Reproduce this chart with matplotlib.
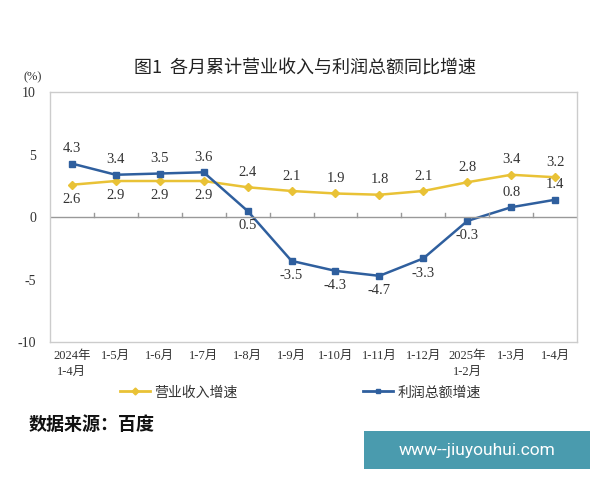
import matplotlib.pyplot as plt
from matplotlib.patches import Rectangle
from matplotlib.lines import Line2D

plt.rcParams['font.family'] = ['Liberation Serif', 'Noto Sans CJK SC']

months = ["2024年\n1-4月", "1-5月", "1-6月", "1-7月", "1-8月", "1-9月", "1-10月",
          "1-11月", "1-12月", "2025年\n1-2月", "1-3月", "1-4月"]
revenue = [2.6, 2.9, 2.9, 2.9, 2.4, 2.1, 1.9, 1.8, 2.1, 2.8, 3.4, 3.2]
profit = [4.3, 3.4, 3.5, 3.6, 0.5, -3.5, -4.3, -4.7, -3.3, -0.3, 0.8, 1.4]

yellow = "#E9C236"
blue = "#2F5F9E"
grey_txt = "#333333"

# label above (+1) or below (-1) each point
rev_side = [-1, -1, -1, -1, 1, 1, 1, 1, 1, 1, 1, 1]
prof_side = [1, 1, 1, 1, -1, -1, -1, -1, -1, -1, 1, 1]

fig = plt.figure(figsize=(6, 4.8), dpi=100)
ax = fig.add_axes([0.083, 0.2875, 0.879, 0.52])
x = list(range(len(months)))

ax.plot(x, revenue, color=yellow, lw=1.8, marker="D", ms=4.5)
ax.plot(x, profit, color=blue, lw=1.8, marker="s", ms=4.5)


def label(i, v, side):
    ax.annotate(f"{v:.1f}", (i, v), xytext=(0, 6 * side), textcoords="offset points",
                ha="center", va="bottom" if side > 0 else "top",
                fontsize=10.5, color=grey_txt)


for i in x:
    label(i, revenue[i], rev_side[i])
    label(i, profit[i], prof_side[i])

ax.set_xlim(-0.5, 11.5)
ax.set_ylim(-10, 10)
ax.set_yticks([-10, -5, 0, 5, 10])
ax.set_yticklabels(["-10", "-5", "0", "5", "10"])
ax.axhline(0, color="#999999", lw=1)
for b in range(1, 12):
    ax.plot([b - 0.5, b - 0.5], [0, 0.35], color="#999999", lw=1)
ax.set_xticks(x)
ax.set_xticklabels(months, fontsize=9, color=grey_txt, linespacing=1.4)
ax.tick_params(axis="x", length=0, pad=6)
ax.tick_params(axis="y", length=0, pad=10, labelsize=10, labelcolor=grey_txt)
for s in ax.spines.values():
    s.set_color("#cccccc")
    s.set_linewidth(1)

fig.text(0.055, 0.832, "(%)", fontsize=9, color=grey_txt, ha="center")
fig.text(0.508, 0.857, "图1  各月累计营业收入与利润总额同比增速", fontsize=13,
         ha="center", va="center", color="#222222", family="Noto Sans CJK SC")

handles = [Line2D([], [], color=yellow, lw=2, marker="D", ms=3.5),
           Line2D([], [], color=blue, lw=2, marker="s", ms=3.5)]
fig.legend(handles, ["营业收入增速", "利润总额增速"], loc="center",
           bbox_to_anchor=(0.5, 0.182), ncol=2, frameon=False, fontsize=10,
           handlelength=2.2, handletextpad=0.3, columnspacing=9,
           labelcolor=grey_txt)

fig.text(0.047, 0.115, "数据来源：百度", fontsize=13, fontweight="bold",
         family="Noto Sans CJK SC", va="center", color="#111111")

fig.patches.append(Rectangle((0.607, 0.023), 0.376, 0.079, transform=fig.transFigure,
                             facecolor="#4A9BAE", edgecolor="none"))
fig.text(0.795, 0.062, "www--jiuyouhui.com", fontsize=12.5, color="white",
         ha="center", va="center", family="Roboto")

fig.savefig("out.png", dpi=100)
